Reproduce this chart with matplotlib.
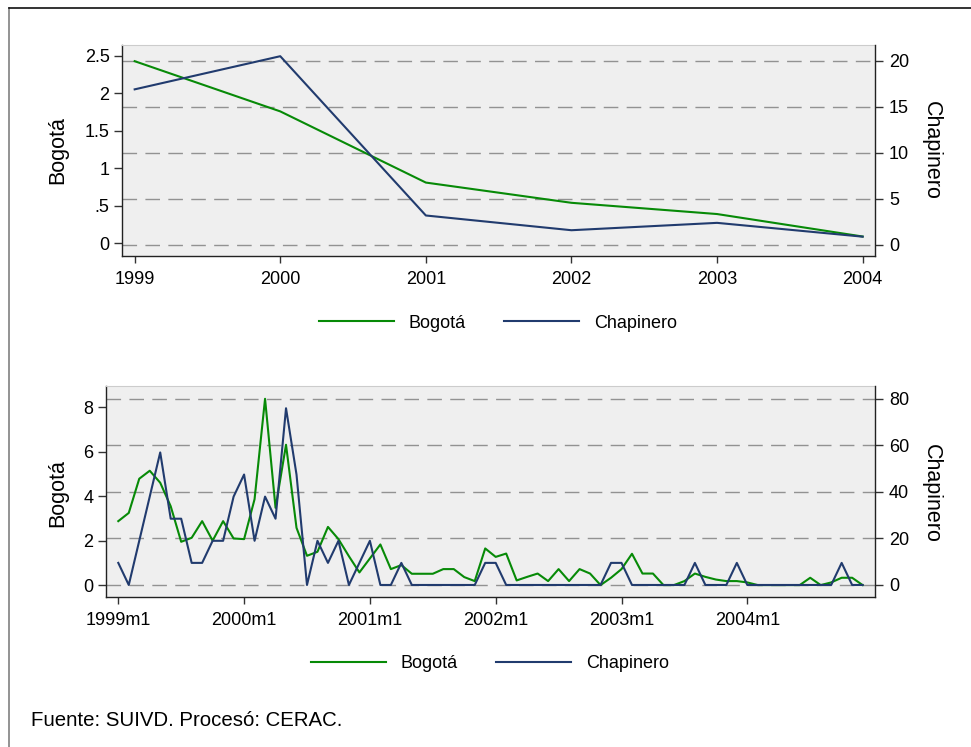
import matplotlib
matplotlib.use("Agg")
import matplotlib.pyplot as plt
from matplotlib.lines import Line2D
from matplotlib.transforms import blended_transform_factory

plt.rcParams['font.family'] = ['Liberation Sans', 'DejaVu Sans']

# ---------------- data ----------------
years = [1999, 2000, 2001, 2002, 2003, 2004]
bogota_annual = [2.43, 1.76, 0.81, 0.54, 0.39, 0.09]
chapinero_annual = [16.9, 20.5, 3.2, 1.6, 2.4, 0.9]

month_tick_labels = ['1999m1', '2000m1', '2001m1', '2002m1', '2003m1', '2004m1']
month_tick_pos = [0, 12, 24, 36, 48, 60]
months = list(range(72))

bogota_monthly = [
    2.88, 3.25, 4.79, 5.15, 4.61, 3.55, 1.95, 2.13, 2.88, 2.00, 2.88, 2.10,
    2.07, 3.87, 8.39, 3.48, 6.32, 2.58, 1.32, 1.50, 2.62, 2.07, 1.30, 0.57,
    1.20, 1.83, 0.72, 0.90, 0.51, 0.51, 0.51, 0.72, 0.72, 0.36, 0.18, 1.65,
    1.27, 1.42, 0.21, 0.37, 0.52, 0.18, 0.72, 0.18, 0.72, 0.52, 0.00, 0.33,
    0.72, 1.41, 0.52, 0.52, 0.00, 0.00, 0.18, 0.52, 0.37, 0.25, 0.18, 0.18,
    0.12, 0.00, 0.00, 0.00, 0.00, 0.00, 0.33, 0.00, 0.12, 0.33, 0.33, 0.00,
]
chapinero_monthly = [
    9.5, 0.0, 19.0, 38.0, 57.0, 28.5, 28.5, 9.5, 9.5, 19.0, 19.0, 38.0,
    47.5, 19.0, 38.0, 28.5, 76.0, 47.5, 0.0, 19.0, 9.5, 19.0, 0.0, 9.5,
    19.0, 0.0, 0.0, 9.5, 0.0, 0.0, 0.0, 0.0, 0.0, 0.0, 0.0, 9.5,
    9.5, 0.0, 0.0, 0.0, 0.0, 0.0, 0.0, 0.0, 0.0, 0.0, 0.0, 9.5,
    9.5, 0.0, 0.0, 0.0, 0.0, 0.0, 0.0, 9.5, 0.0, 0.0, 0.0, 9.5,
    0.0, 0.0, 0.0, 0.0, 0.0, 0.0, 0.0, 0.0, 0.0, 9.5, 0.0, 0.0,
]

top_left_ticks = [0, 0.5, 1, 1.5, 2, 2.5]
top_left_labels = ['0', '.5', '1', '1.5', '2', '2.5']
top_right_ticks = [0, 5, 10, 15, 20]
bot_left_ticks = [0, 2, 4, 6, 8]
bot_right_ticks = [0, 20, 40, 60, 80]

# ---------------- style ----------------
GREEN = '#078a07'
NAVY = '#213b6e'
BG = '#efefef'
GRID = '#929292'
W, H = 971, 747

fig = plt.figure(figsize=(W / 100, H / 100), dpi=100)


def rect(l, t, r, b):
    return [l / W, 1 - b / H, (r - l) / W, (b - t) / H]


def style_pair(ax, axr, lticks, rticks):
    ax.set_facecolor(BG)
    for s in ['left', 'bottom']:
        ax.spines[s].set_color('#222222')
        ax.spines[s].set_linewidth(1.0)
    ax.spines['top'].set_color('#cccccc')
    ax.spines['right'].set_visible(False)
    axr.spines['right'].set_color('#222222')
    axr.spines['right'].set_linewidth(1.0)
    for s in ['left', 'bottom', 'top']:
        axr.spines[s].set_visible(False)
    ax.tick_params(axis='y', direction='out', length=6, width=1, labelsize=13, pad=3, color='#333333')
    ax.tick_params(axis='x', direction='out', length=5, width=1, labelsize=13, pad=5.5, color='#333333')
    axr.tick_params(axis='y', direction='out', length=6, width=1, labelsize=13, pad=4, color='#333333')
    # grid lines at right-axis ticks, drawn behind the lines
    tr = blended_transform_factory(ax.transAxes, axr.transData)
    for v in rticks:
        ax.add_line(Line2D([0, 1], [v, v], transform=tr, color=GRID, lw=1.0,
                           linestyle=(0, (10.5, 6)), zorder=0.8))


# ---------------- top chart ----------------
ax1 = fig.add_axes(rect(122, 44.7, 875, 256))
ax1r = ax1.twinx()
ax1.set_xlim(1998.913, 2004.085)
ax1.set_ylim(-0.17, 2.65)
ax1r.set_ylim(-1.2, 21.75)
style_pair(ax1, ax1r, top_left_ticks, top_right_ticks)
ax1.set_xticks(years)
ax1.set_xticklabels([str(y) for y in years])
ax1.set_yticks(top_left_ticks)
ax1.set_yticklabels(top_left_labels)
ax1r.set_yticks(top_right_ticks)
l1, = ax1.plot(years, bogota_annual, color=GREEN, lw=1.5, zorder=2, label='Bogotá')
l2, = ax1r.plot(years, chapinero_annual, color=NAVY, lw=1.5, zorder=2, label='Chapinero')

# ---------------- bottom chart ----------------
ax2 = fig.add_axes(rect(105.7, 385.7, 875, 597.3))
ax2r = ax2.twinx()
ax2.set_xlim(-1.2, 72.18)
ax2.set_ylim(-0.55, 8.98)
ax2r.set_ylim(-5.3, 85.7)
style_pair(ax2, ax2r, bot_left_ticks, bot_right_ticks)
ax2.set_xticks(month_tick_pos)
ax2.set_xticklabels(month_tick_labels)
ax2.set_yticks(bot_left_ticks)
ax2r.set_yticks(bot_right_ticks)
m1, = ax2.plot(months, bogota_monthly, color=GREEN, lw=1.5, zorder=2, label='Bogotá')
m2, = ax2r.plot(months, chapinero_monthly, color=NAVY, lw=1.5, zorder=2, label='Chapinero')

# ---------------- axis titles ----------------
fig.text(58 / W, 1 - 150 / H, 'Bogotá', rotation=90, ha='center', va='center', fontsize=15.5)
fig.text(931 / W, 1 - 150 / H, 'Chapinero', rotation=270, ha='center', va='center', fontsize=15.5)
fig.text(58 / W, 1 - 493 / H, 'Bogotá', rotation=90, ha='center', va='center', fontsize=15.5)
fig.text(931 / W, 1 - 493 / H, 'Chapinero', rotation=270, ha='center', va='center', fontsize=15.5)

# ---------------- legends ----------------
for (handles, cx, cy) in [([l1, l2], 498, 323), ([m1, m2], 490, 664)]:
    fig.legend(handles=handles, labels=['Bogotá', 'Chapinero'], ncol=2, frameon=False,
               loc='center', bbox_to_anchor=(cx / W, 1 - cy / H), fontsize=13,
               handlelength=4.15, handletextpad=0.85, columnspacing=2.1)

# ---------------- footer & frame ----------------
fig.text(31 / W, 1 - 721 / H, 'Fuente: SUIVD. Procesó: CERAC.', ha='left', va='center', fontsize=14.7)
fig.add_artist(Line2D([9 / W, 9 / W], [1 - 8 / H, 0], transform=fig.transFigure, color='#808080', lw=1.2))
fig.add_artist(Line2D([9 / W, 1], [1 - 8 / H, 1 - 8 / H], transform=fig.transFigure, color='#111111', lw=1.2))

fig.savefig('out.png', dpi=100)
